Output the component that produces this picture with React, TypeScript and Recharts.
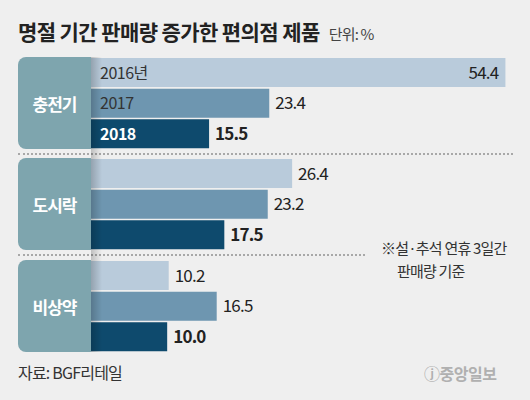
import { BarChart, Bar, XAxis, YAxis, Cell, LabelList } from 'recharts';

const categories = ['충전기', '도시락', '비상약'];
const years = ['2016', '2017', '2018'];
const yearLabels = ['2016년', '2017', '2018'];
const values2016 = [54.4, 26.4, 10.2];
const values2017 = [23.4, 23.2, 16.5];
const values2018 = [15.5, 17.5, 10.0];

const seriesByYear = [values2016, values2017, values2018];
const barColors = ['#b9cbdb', '#6e96b0', '#0e4a6d'];
const groupTops = [57, 158, 260];
const FONT = '"Noto Sans CJK KR", "Noto Sans", sans-serif';

function ValueLabel(props: any) {
  const { x, y, width, height, value, index } = props;
  const inside = value > 50;
  return (
    <text
      x={inside ? x + width - 7 : x + width + 6}
      y={y + height / 2 + 6}
      textAnchor={inside ? 'end' : 'start'}
      fontSize={17}
      fontWeight={index === 2 ? 700 : 400}
      fill="#222"
      fontFamily={FONT}
      letterSpacing={-0.8}
    >
      {value.toFixed(1)}
    </text>
  );
}

function YearLabel(props: any) {
  const { x, y, height, index } = props;
  return (
    <text
      x={x + 9}
      y={y + height / 2 + 6}
      fontSize={16}
      fontWeight={index === 2 ? 700 : 400}
      fill={index === 2 ? '#fff' : '#333'}
      fontFamily={FONT}
      letterSpacing={-0.5}
    >
      {yearLabels[index]}
    </text>
  );
}

function GroupChart({ g }: { g: number }) {
  const rows = years.map((year, i) => ({ year, value: seriesByYear[i][g] }));
  return (
    <BarChart
      layout="vertical"
      width={419}
      height={92}
      data={rows}
      margin={{ top: 0, right: 0, bottom: 0, left: 0 }}
    >
      <XAxis type="number" domain={[0, 55]} hide />
      <YAxis type="category" dataKey="year" hide />
      <Bar dataKey="value" barSize={29} isAnimationActive={false}>
        {rows.map((r, i) => (
          <Cell key={r.year} fill={barColors[i]} />
        ))}
        <LabelList dataKey="value" content={ValueLabel} />
        {g === 0 && <LabelList dataKey="year" content={YearLabel} />}
      </Bar>
    </BarChart>
  );
}

export default function App() {
  return (
    <div
      style={{
        position: 'absolute',
        left: 0,
        top: 0,
        width: 530,
        height: 400,
        background: '#efefef',
        fontFamily: FONT,
        overflow: 'hidden',
      }}
    >
      <div style={{ position: 'absolute', left: 18, top: 16, fontSize: 21, fontWeight: 700, color: '#222', letterSpacing: -0.6, whiteSpace: 'nowrap' }}>
        명절 기간 판매량 증가한 편의점 제품
        <span style={{ fontSize: 15, fontWeight: 400, color: '#444', letterSpacing: -0.8, marginLeft: 9 }}>단위: %</span>
      </div>

      {categories.map((c, g) => (
        <div key={c}>
          <div
            style={{
              position: 'absolute',
              left: 18,
              top: groupTops[g],
              width: 73,
              height: 92,
              background: '#7ea5ae',
              borderRadius: '8px 0 0 8px',
              color: '#fff',
              fontWeight: 700,
              fontSize: 17,
              letterSpacing: -1,
              display: 'flex',
              alignItems: 'center',
              justifyContent: 'center',
            }}
          >
            {c}
          </div>
          <div style={{ position: 'absolute', left: 91, top: groupTops[g] }}>
            <GroupChart g={g} />
          </div>
        </div>
      ))}

      <div style={{ position: 'absolute', left: 18, top: 153, width: 495, borderTop: '2px dotted #a8a8a8' }} />
      <div style={{ position: 'absolute', left: 18, top: 254, width: 347, borderTop: '2px dotted #a8a8a8' }} />

      <div
        style={{
          position: 'absolute',
          left: 91,
          top: 57,
          width: 11,
          height: 295,
          background: 'linear-gradient(to right, rgba(0,0,0,0.2), rgba(0,0,0,0))',
          pointerEvents: 'none',
        }}
      />

      <div style={{ position: 'absolute', left: 381, top: 236, fontSize: 15, color: '#333', letterSpacing: -0.8, lineHeight: '23px', whiteSpace: 'nowrap' }}>
        ※설·추석 연휴 3일간
        <br />
        <span style={{ marginLeft: 16 }}>판매량 기준</span>
      </div>

      <div style={{ position: 'absolute', left: 18, top: 360, fontSize: 16, color: '#333', letterSpacing: -0.8 }}>
        자료: BGF리테일
      </div>
      <div style={{ position: 'absolute', left: 424, top: 361, fontSize: 16, color: '#b0b0b0', letterSpacing: -0.5, fontWeight: 700 }}>
        ⓙ중앙일보
      </div>
    </div>
  );
}
